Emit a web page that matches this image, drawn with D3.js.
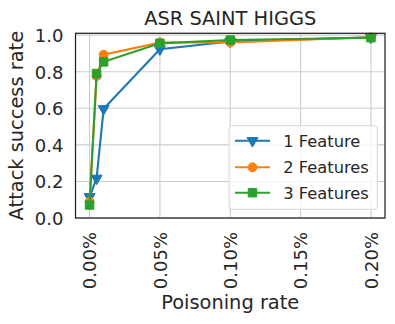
<!DOCTYPE html>
<html>
<head>
<meta charset="utf-8">
<script src="https://cdn.jsdelivr.net/npm/d3@7"></script>
<style>
  body { margin: 0; background: #fff; }
  text { font-family: "DejaVu Sans", sans-serif; fill: #262626; }
</style>
</head>
<body>
<div id="chart"></div>
<script>
// poisoning rate in percent
var rates = [0.0, 0.005, 0.01, 0.05, 0.10, 0.20];
var oneFeature = [0.116, 0.217, 0.597, 0.923, 0.965, 0.988];
var twoFeatures = [0.089, 0.776, 0.893, 0.960, 0.960, 0.988];
var threeFeatures = [0.071, 0.790, 0.854, 0.955, 0.973, 0.986];
var seriesNames = ["1 Feature", "2 Features", "3 Features"];
var xTicks = [0.00, 0.05, 0.10, 0.15, 0.20];
var yTicks = [0.0, 0.2, 0.4, 0.6, 0.8, 1.0];

var svgWidth = 395;
var svgHeight = 324;
var margin = { top: 33.3, right: 10, bottom: 106, left: 75.5 };
var width = svgWidth - margin.left - margin.right;
var height = svgHeight - margin.top - margin.bottom;

var colors = ["#1f77b4", "#ff7f0e", "#2ca02c"];
var symbols = [
  d3.symbol().type(d3.symbolTriangle).size(52),
  d3.symbol().type(d3.symbolCircle).size(62),
  d3.symbol().type(d3.symbolSquare).size(72)
];
var rotations = [180, 0, 0];

var svg = d3.select("#chart")
  .append("svg")
  .attr("width", svgWidth)
  .attr("height", svgHeight);

var chartGroup = svg.append("g")
  .attr("transform", `translate(${margin.left}, ${margin.top})`);

var xScale = d3.scaleLinear().domain([-0.01, 0.21]).range([0, width]);
var yScale = d3.scaleLinear().domain([0, 1.01]).range([height, 0]);

// grid
chartGroup.selectAll(".xgrid")
  .data(xTicks).enter().append("line")
  .attr("x1", d => xScale(d)).attr("x2", d => xScale(d))
  .attr("y1", 0).attr("y2", height)
  .attr("stroke", "#cccccc").attr("stroke-width", 1.1);

chartGroup.selectAll(".ygrid")
  .data(yTicks).enter().append("line")
  .attr("y1", d => yScale(d)).attr("y2", d => yScale(d))
  .attr("x1", 0).attr("x2", width)
  .attr("stroke", "#cccccc").attr("stroke-width", 1.1);

// axes (no tick marks, just labels)
var bottomAxis = d3.axisBottom(xScale).tickValues(xTicks)
  .tickSize(0).tickPadding(0).tickFormat(d => d.toFixed(2) + "%");
var leftAxis = d3.axisLeft(yScale).tickValues(yTicks)
  .tickSize(0).tickPadding(12).tickFormat(d3.format(".1f"));

var xAxis = chartGroup.append("g")
  .attr("transform", `translate(0, ${height})`)
  .call(bottomAxis);
xAxis.select(".domain").remove();
xAxis.selectAll("text")
  .attr("font-size", 18)
  .attr("text-anchor", "end")
  .attr("dy", "0.35em")
  .attr("y", 0)
  .attr("x", -14)
  .attr("transform", "rotate(-90)");

var yAxis = chartGroup.append("g").call(leftAxis);
yAxis.select(".domain").remove();
yAxis.selectAll("text").attr("font-size", 18).attr("dy", "0.36em");

// lines + markers
var allSeries = [oneFeature, twoFeatures, threeFeatures];
var line = d3.line()
  .x(d => xScale(d[0]))
  .y(d => yScale(d[1]));

allSeries.forEach(function(values, i) {
  var pts = rates.map((r, j) => [r, values[j]]);
  chartGroup.append("path")
    .datum(pts)
    .attr("d", line)
    .attr("fill", "none")
    .attr("stroke", colors[i])
    .attr("stroke-width", 2.1);
  chartGroup.selectAll(".m" + i)
    .data(pts).enter().append("path")
    .attr("d", symbols[i])
    .attr("transform", d => `translate(${xScale(d[0])}, ${yScale(d[1])}) rotate(${rotations[i]})`)
    .attr("fill", colors[i])
    .attr("stroke", colors[i])
    .attr("stroke-width", 1);
});

// spines
chartGroup.append("rect")
  .attr("width", width).attr("height", height)
  .attr("fill", "none")
  .attr("stroke", "#222").attr("stroke-width", 1.25);

// title and labels
svg.append("text")
  .attr("x", margin.left + width / 2).attr("y", 25)
  .attr("text-anchor", "middle").attr("font-size", 19.4)
  .text("ASR SAINT HIGGS");

svg.append("text")
  .attr("x", margin.left + width / 2).attr("y", 309)
  .attr("text-anchor", "middle").attr("font-size", 19.4)
  .text("Poisoning rate");

svg.append("text")
  .attr("transform", `translate(23, ${margin.top + height / 2}) rotate(-90)`)
  .attr("text-anchor", "middle").attr("font-size", 19.4)
  .text("Attack success rate");

// legend
var legend = svg.append("g").attr("transform", "translate(229, 125.7)");
legend.append("rect")
  .attr("width", 148.3).attr("height", 83.6)
  .attr("rx", 3).attr("ry", 3)
  .attr("fill", "#fff").attr("fill-opacity", 0.8)
  .attr("stroke", "#d6d6d6").attr("stroke-width", 1);

var rowY = [15, 41.6, 67];
seriesNames.forEach(function(name, i) {
  var row = legend.append("g").attr("transform", `translate(0, ${rowY[i]})`);
  row.append("line")
    .attr("x1", 6).attr("x2", 41)
    .attr("stroke", colors[i]).attr("stroke-width", 2.1);
  row.append("path")
    .attr("d", symbols[i])
    .attr("transform", `translate(23.5, 0) rotate(${rotations[i]})`)
    .attr("fill", colors[i]).attr("stroke", colors[i]).attr("stroke-width", 1);
  row.append("text")
    .attr("x", 54.3).attr("dy", "0.36em")
    .attr("font-size", 16.3)
    .text(name);
});
</script>
</body>
</html>
